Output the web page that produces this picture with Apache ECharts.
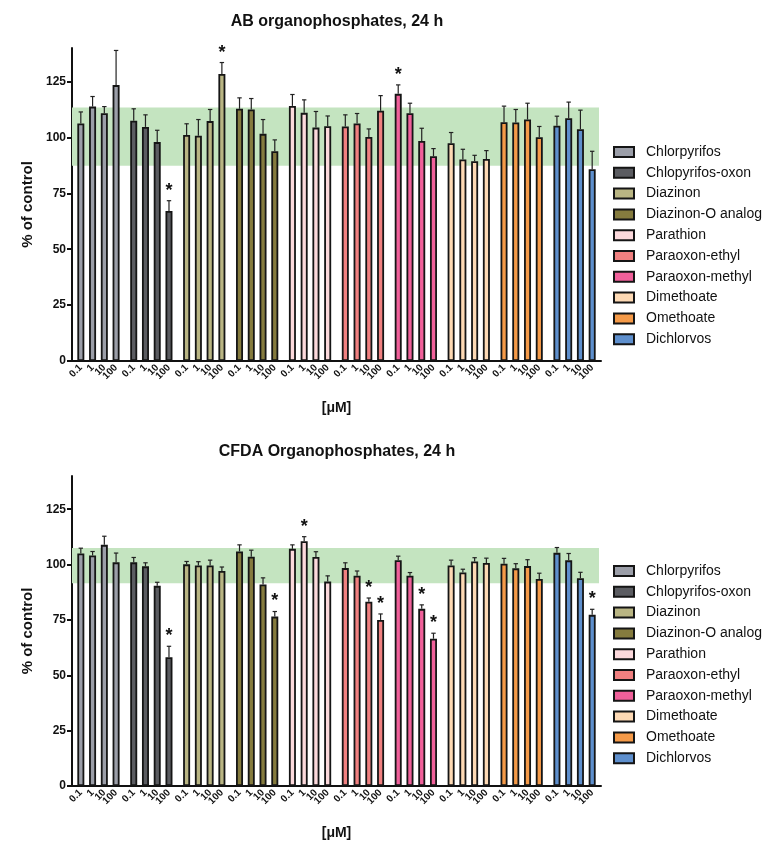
<!DOCTYPE html>
<html>
<head>
<meta charset="utf-8">
<script src="https://cdn.jsdelivr.net/npm/echarts@6/dist/echarts.min.js"></script>
<style>
html,body{margin:0;padding:0;background:#fff;}
#chart{width:767px;height:841px;}
</style>
</head>
<body>
<div id="chart"></div>
<script>
// ---------- data ----------
const concentrations = ['0.1', '1', '10', '100'];
const compounds = ['Chlorpyrifos', 'Chlopyrifos-oxon', 'Diazinon', 'Diazinon-O analog', 'Parathion',
  'Paraoxon-ethyl', 'Paraoxon-methyl', 'Dimethoate', 'Omethoate', 'Dichlorvos'];
const colors = ['#9b9ea8', '#5b5c61', '#b9b583', '#857b3e', '#fcd9dc',
  '#f08080', '#f0609a', '#fdd9b4', '#f59a48', '#5e8fcd'];

const titles = ['AB organophosphates, 24 h', 'CFDA Organophosphates, 24 h'];
const yTicks = [0, 25, 50, 75, 100, 125];

// AB assay (mean % of control) per compound, concentrations 0.1,1,10,100 µM
const abValues = [
  [106.2, 113.8, 110.8, 123.4],
  [107.5, 104.7, 97.9, 67.1],
  [101.1, 100.8, 107.3, 128.4],
  [112.8, 112.5, 101.6, 93.8],
  [114.1, 111.0, 104.4, 105.0],
  [104.9, 106.2, 100.2, 111.9],
  [119.5, 110.8, 98.4, 91.6],
  [97.4, 90.1, 89.4, 90.4],
  [106.8, 106.7, 108.0, 100.1],
  [105.2, 108.6, 103.7, 85.8]
];
const abErrors = [
  [5.2, 4.5, 3.0, 15.5],
  [5.3, 5.4, 5.3, 4.6],
  [5.0, 7.2, 5.2, 5.1],
  [4.9, 4.9, 6.4, 5.1],
  [5.1, 5.8, 7.2, 4.6],
  [5.2, 4.5, 3.6, 6.8],
  [4.0, 4.5, 5.7, 3.4],
  [4.8, 4.6, 2.6, 3.7],
  [7.2, 5.8, 7.3, 4.8],
  [4.3, 7.2, 8.5, 8.0]
];
const abStars = [
  [0, 0, 0, 0], [0, 0, 0, 1], [0, 0, 0, 1], [0, 0, 0, 0], [0, 0, 0, 0],
  [0, 0, 0, 0], [1, 0, 0, 0], [0, 0, 0, 0], [0, 0, 0, 0], [0, 0, 0, 0]
];
const abBand = [87.3, 113.4];

// CFDA assay
const cfdaValues = [
  [105.0, 104.1, 108.9, 101.0],
  [101.0, 99.2, 90.4, 58.2],
  [100.1, 99.6, 99.6, 97.1],
  [105.9, 103.5, 91.0, 76.5],
  [107.1, 110.5, 103.4, 92.3],
  [98.4, 95.0, 83.2, 75.0],
  [102.0, 95.0, 80.0, 66.5],
  [99.6, 96.4, 101.4, 100.7],
  [100.4, 98.3, 99.3, 93.5],
  [105.3, 101.9, 93.8, 77.3]
];
const cfdaErrors = [
  [2.4, 1.8, 3.9, 4.2],
  [2.2, 1.6, 1.6, 4.9],
  [1.3, 1.7, 2.4, 1.8],
  [3.0, 3.0, 3.0, 2.3],
  [1.8, 2.1, 2.4, 2.6],
  [2.4, 2.1, 1.7, 2.7],
  [1.8, 1.4, 1.8, 2.5],
  [2.4, 1.5, 1.7, 2.2],
  [2.4, 2.1, 2.9, 2.6],
  [2.4, 3.1, 2.7, 2.5]
];
const cfdaStars = [
  [0, 0, 0, 0], [0, 0, 0, 1], [0, 0, 0, 0], [0, 0, 0, 1], [0, 1, 0, 0],
  [0, 0, 1, 1], [0, 0, 1, 1], [0, 0, 0, 0], [0, 0, 0, 0], [0, 0, 0, 1]
];
const cfdaBand = [91.6, 107.5];

// ---------- layout helpers ----------
const FONT = '"Liberation Sans", Arial, Helvetica, sans-serif';
const SLOTS_PER_GROUP = 9;
const NCAT = compounds.length * SLOTS_PER_GROUP;
function pos(g, i) { return 1 + g * SLOTS_PER_GROUP + 2 * i; }
const xCats = [];
for (let k = 0; k < NCAT; k++) xCats.push('');
compounds.forEach((c, g) => concentrations.forEach((lab, i) => { xCats[pos(g, i)] = lab; }));
const isBarCat = (idx) => xCats[idx] !== '';

const panels = [
  { values: abValues, errors: abErrors, stars: abStars, band: abBand, top: 48, titleTop: 14, legendTop: 140 },
  { values: cfdaValues, errors: cfdaErrors, stars: cfdaStars, band: cfdaBand, top: 476, titleTop: 444, legendTop: 559 }
];

const grid = [], xAxis = [], yAxis = [], series = [], title = [], legend = [];

panels.forEach((p, k) => {
  grid.push({ left: 72, width: 529, top: p.top, height: 313, containLabel: false });
  title.push({
    text: titles[k], left: 337, top: p.titleTop, textAlign: 'center', padding: 0,
    textStyle: { fontFamily: FONT, fontSize: 16, fontWeight: 'bold', color: '#111' }
  });
  legend.push({
    data: compounds, orient: 'vertical', left: 608, top: p.legendTop,
    itemWidth: 20, itemHeight: 10, itemGap: 6.8, icon: 'rect',
    textStyle: { fontFamily: FONT, fontSize: 14, color: '#111', lineHeight: 14, padding: [0, 0, 0, 7] }
  });
  xAxis.push({
    type: 'category', gridIndex: k, data: xCats, boundaryGap: true,
    name: '[μM]', nameLocation: 'middle', nameGap: 40,
    nameTextStyle: { fontFamily: FONT, fontSize: 14, fontWeight: 'bold', color: '#111' },
    axisLine: { lineStyle: { color: '#111', width: 2 } },
    axisTick: { alignWithLabel: true, interval: (idx) => isBarCat(idx), length: 4, lineStyle: { color: '#111', width: 1.5 } },
    axisLabel: {
      interval: (idx) => isBarCat(idx) || idx === NCAT - 1, rotate: 45, margin: 5,
      hideOverlap: false,
      fontFamily: FONT, fontSize: 10, fontWeight: 'bold', color: '#111'
    },
    splitLine: { show: false }
  });
  yAxis.push({
    type: 'value', gridIndex: k, min: 0, max: 140,
    name: '% of control', nameLocation: 'middle', nameGap: 37, nameRotate: 90,
    nameTextStyle: { fontFamily: FONT, fontSize: 15, fontWeight: 'bold', color: '#111' },
    axisLine: { show: true, lineStyle: { color: '#111', width: 2 } },
    axisTick: { show: true, customValues: yTicks, length: 5, lineStyle: { color: '#111', width: 2 } },
    axisLabel: { customValues: yTicks, margin: 6, fontFamily: FONT, fontSize: 12, fontWeight: 'bold', color: '#111' },
    splitLine: { show: false }
  });

  compounds.forEach((c, g) => {
    const data = xCats.map(() => null);
    concentrations.forEach((lab, i) => { data[pos(g, i)] = p.values[g][i]; });
    const s = {
      type: 'bar', name: c, xAxisIndex: k, yAxisIndex: k, data: data,
      barWidth: 7, barGap: '-100%', z: 3,
      itemStyle: { color: colors[g], borderColor: '#151515', borderWidth: 1.8 },
      emphasis: { disabled: true }
    };
    if (g === 0) {
      s.markArea = {
        silent: true, z: 1,
        itemStyle: { color: '#c4e4c0' },
        data: [[{ yAxis: p.band[0], x: 72 }, { yAxis: p.band[1], x: 599 }]]
      };
    }
    series.push(s);
  });

  const errData = [];
  compounds.forEach((c, g) => concentrations.forEach((lab, i) => {
    errData.push([pos(g, i), p.values[g][i], p.errors[g][i], p.stars[g][i]]);
  }));
  series.push({
    type: 'custom', xAxisIndex: k, yAxisIndex: k, z: 4, silent: true,
    data: errData, encode: { x: 0, y: 1 },
    renderItem: function (params, api) {
      const x = api.value(0), v = api.value(1), e = api.value(2), st = api.value(3);
      const p0 = api.coord([x, v]);
      const p1 = api.coord([x, v + e]);
      const children = [
        { type: 'line', shape: { x1: p0[0], y1: p0[1], x2: p1[0], y2: p1[1] }, style: { stroke: '#222', lineWidth: 1.2 } },
        { type: 'line', shape: { x1: p1[0] - 2.2, y1: p1[1], x2: p1[0] + 2.2, y2: p1[1] }, style: { stroke: '#222', lineWidth: 1.2 } }
      ];
      if (st) {
        children.push({
          type: 'text',
          style: { text: '*', x: p1[0], y: p1[1] - 1, align: 'center', verticalAlign: 'bottom',
            font: 'bold 18px ' + FONT, fill: '#111' }
        });
      }
      return { type: 'group', children: children };
    }
  });
});

const chart = echarts.init(document.getElementById('chart'), null, { renderer: 'canvas' });
chart.setOption({
  animation: false,
  backgroundColor: '#ffffff',
  title: title, legend: legend, grid: grid, xAxis: xAxis, yAxis: yAxis, series: series
});
</script>
</body>
</html>
